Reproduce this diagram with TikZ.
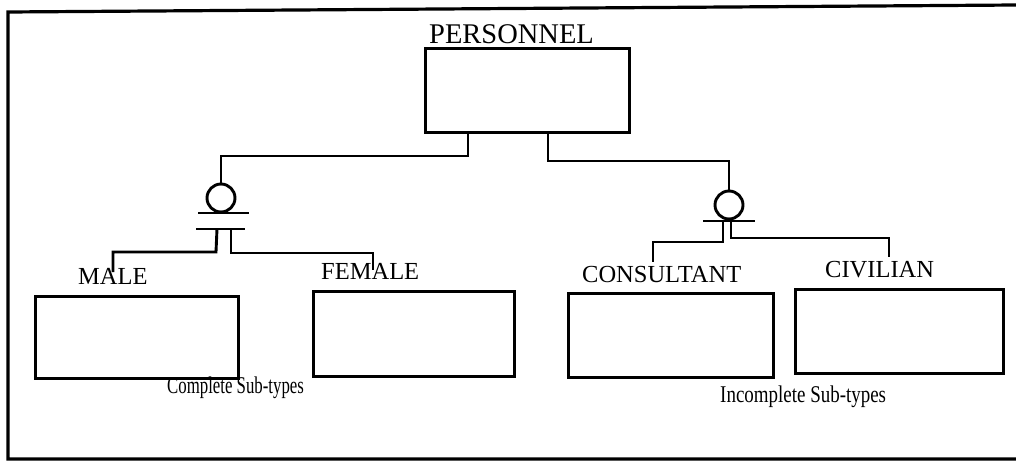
\documentclass[tikz,border=0pt]{standalone}
\usepackage{fontspec}
\setmainfont{Liberation Serif}
\usepackage{graphicx}
\begin{document}
\begin{tikzpicture}[x=1pt,y=-1pt,
  ln/.style={line width=2.9pt,line join=miter},
  ent/.style={draw,line width=2.9pt,inner sep=0pt,anchor=north west},
  lbl/.style={inner sep=0pt,anchor=base west,font=\fontsize{24.5}{26}\selectfont},
  note/.style={inner sep=0pt,anchor=base west,font=\fontsize{24}{26}\selectfont},
  sub/.style={draw,circle,line width=2.9pt,inner sep=0pt,minimum size=28pt}]
\useasboundingbox (0,0) rectangle (1016,463);
% frame
\coordinate (ftr) at (1016,5);
\coordinate (ftl) at (8,12);
\coordinate (fbl) at (8,459);
\coordinate (fbr) at (1016,459);
\draw[ln,line width=3.2pt] (ftr) -- (ftl) -- (fbl) -- (fbr);
% entities
\node[ent,minimum width=204pt,minimum height=84pt] (P) at (424,47) {};
\node[ent,minimum width=203pt,minimum height=82pt] (M) at (34,295) {};
\node[ent,minimum width=201pt,minimum height=85pt] (F) at (312,290) {};
\node[ent,minimum width=205pt,minimum height=84pt] (C) at (567,292) {};
\node[ent,minimum width=208pt,minimum height=84pt] (V) at (794,288) {};
% labels
\node[lbl,font=\fontsize{28.5}{30}\selectfont] (Pl) at (429,43) {PERSONNEL};
\node[lbl] (Ml) at (78,284) {MALE};
\node[lbl] (Fl) at (321,279) {FEMALE};
\node[lbl] (Cl) at (582,282) {CONSULTANT};
\node[lbl] (Vl) at (825,277) {CIVILIAN};
\node[note] (n1) at (167,393) {\scalebox{0.70}[1]{Complete Sub-types}};
\node[note] (n2) at (720,402) {\scalebox{0.79}[1]{Incomplete Sub-types}};
% sub-type symbols
\node[sub] (s1) at (221,198) {};
\node[sub] (s2) at (729,205) {};
\coordinate (b1a) at (198,213); \coordinate (b1b) at (249,213);
\coordinate (b2a) at (196,229); \coordinate (b2b) at (245,229);
\coordinate (b3a) at (703,221); \coordinate (b3b) at (755,221);
\draw[ln] (b1a) -- (b1b);
\draw[ln] (b2a) -- (b2b);
\draw[ln] (b3a) -- (b3b);
% connectors from supertype
\coordinate (p1) at (468,131);
\coordinate (p2) at (548,131);
\draw[ln] (p1) |- (221,156) -- (s1.north);
\draw[ln] (p2) |- (729,161) -- (s2.north);
% legs left
\coordinate (l1) at (217,229);
\coordinate (l2) at (231,229);
\coordinate (mt) at (113,272);
\coordinate (ft) at (373,270);
\draw[ln] (l1) -- (216,252) -| (mt);
\draw[ln] (l2) |- (373,253) -- (ft);
% legs right
\coordinate (r1) at (723,221);
\coordinate (r2) at (731,221);
\coordinate (ct) at (653,262);
\coordinate (vt) at (889,257);
\draw[ln] (r1) |- (653,242) -- (ct);
\draw[ln] (r2) |- (889,238) -- (vt);
\end{tikzpicture}
\end{document}
